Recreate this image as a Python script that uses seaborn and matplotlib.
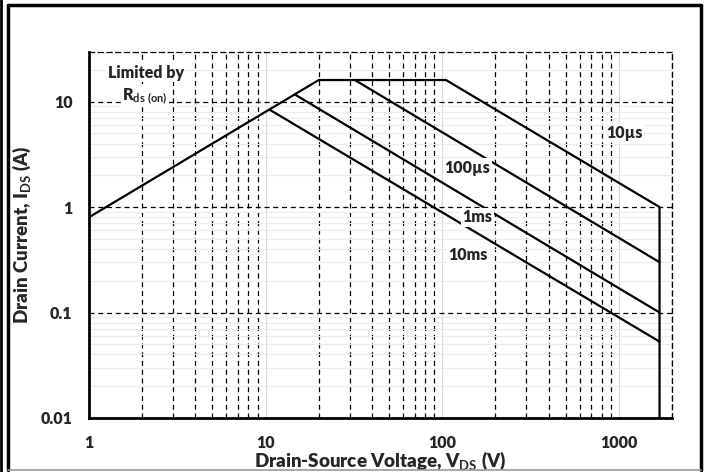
import numpy as np
import pandas as pd
import seaborn as sns
import matplotlib.pyplot as plt
from matplotlib.ticker import LogLocator, FixedLocator, NullFormatter, FixedFormatter
from matplotlib.lines import Line2D

sns.set_style("white")
plt.rcParams['font.family'] = ['Lato', 'DejaVu Sans']
plt.rcParams['font.weight'] = 'bold'
plt.rcParams['mathtext.fontset'] = 'custom'
plt.rcParams['mathtext.rm'] = 'Lato:bold'
plt.rcParams['mathtext.it'] = 'Lato:bold'
plt.rcParams['mathtext.bf'] = 'Lato:bold'

# SOA curves (V, A)
v_10us = [1, 20, 105, 1700, 1700]
i_10us = [0.8, 16, 16, 1.0, 0.01]
v_100us = [32, 1700]
i_100us = [16, 0.3]
v_1ms = [14.6, 1700]
i_1ms = [11.7, 0.1]
v_10ms = [10.5, 1700]
i_10ms = [8.4, 0.053]

curves = {"10us": (v_10us, i_10us), "100us": (v_100us, i_100us),
          "1ms": (v_1ms, i_1ms), "10ms": (v_10ms, i_10ms)}

x_ticks = [1, 10, 100, 1000]
x_labels = ["1", "10", "100", "1000"]
y_ticks = [0.01, 0.1, 1, 10]
y_labels = ["0.01", "0.1", "1", "10"]

fig = plt.figure(figsize=(7.08, 4.72), dpi=100)
ax = fig.add_axes([89/708, 1-418/472, (672-89)/708, (418-52)/472])

for name, (v, i) in curves.items():
    df = pd.DataFrame({"v": v, "i": i})
    sns.lineplot(data=df, x="v", y="i", sort=False, estimator=None,
                 color="black", lw=1.6, ax=ax, zorder=5)

ax.set_xscale("log")
ax.set_yscale("log")
ax.set_xlim(1, 2000)
ax.set_ylim(0.01, 29.5)

ax.xaxis.set_major_locator(FixedLocator(x_ticks))
ax.xaxis.set_major_formatter(FixedFormatter(x_labels))
ax.xaxis.set_minor_locator(LogLocator(base=10, subs=np.arange(2, 10), numticks=20))
ax.xaxis.set_minor_formatter(NullFormatter())
ax.yaxis.set_major_locator(FixedLocator(y_ticks))
ax.yaxis.set_major_formatter(FixedFormatter(y_labels))
ax.yaxis.set_minor_locator(LogLocator(base=10, subs=np.arange(2, 10), numticks=20))
ax.yaxis.set_minor_formatter(NullFormatter())

ax.grid(True, which="major", axis="x", color="#d9d9d9", lw=0.8, ls="-")
ax.grid(True, which="minor", axis="x", color="black", lw=0.9, ls=(0, (4, 3)))
ax.grid(True, which="major", axis="y", color="black", lw=0.9, ls=(0, (4, 3)))
ax.grid(True, which="minor", axis="y", color="#ececec", lw=0.8, ls="-")

ax.tick_params(axis="both", which="both", length=0, labelsize=11.5)
ax.tick_params(axis="x", pad=12)
ax.tick_params(axis="y", pad=12)
for lab in ax.get_xticklabels() + ax.get_yticklabels():
    lab.set_fontweight("heavy")

for s in ["left", "bottom"]:
    ax.spines[s].set_color("black")
    ax.spines[s].set_linewidth(2.0)
for s in ["top", "right"]:
    ax.spines[s].set_color("black")
    ax.spines[s].set_linewidth(0.9)
    ax.spines[s].set_linestyle((0, (4, 3)))

ax.set_xlabel(r"Drain-Source Voltage, V$_{DS}$ (V)", fontsize=13.5, fontweight="heavy")
ax.set_ylabel(r"Drain Current, I$_{DS}$ (A)", fontsize=13.5, fontweight="heavy")
ax.xaxis.set_label_coords(0.5, -(467-418)/366, transform=ax.transAxes)
ax.yaxis.set_label_coords(-(89-22)/583, 0.5, transform=ax.transAxes)
ax.xaxis.label.set_va("baseline")
ax.yaxis.label.set_va("center")

box = dict(facecolor="white", edgecolor="none", pad=1.0)
kw = dict(ha="center", va="center", fontsize=11.5, fontweight="heavy", bbox=box, zorder=6)
ax.text(2.1, 18.8, "Limited by", **kw)
ax.text(2.08, 11.4, r"R$_{ds\ (on)}$", **kw)
ax.text(1070, 5.0, "10µs", **kw)
ax.text(139, 2.37, "100µs", **kw)
ax.text(158, 0.8, "1ms", **kw)
ax.text(140, 0.35, "10ms", **kw)

# outer frame
W, H = 708, 472
fig.lines.append(Line2D([8/W, 8/W], [2/H, 1-5/H], transform=fig.transFigure, color="black", lw=2.5))
fig.lines.append(Line2D([8/W, 701/W], [1-5/H, 1-5/H], transform=fig.transFigure, color="black", lw=2.5))
fig.lines.append(Line2D([701/W, 701/W], [2/H, 1-5/H], transform=fig.transFigure, color="black", lw=2.5))
fig.lines.append(Line2D([8/W, 701/W], [2/H, 2/H], transform=fig.transFigure, color="#999999", lw=1.2))
fig.lines.append(Line2D([1/W, 1/W], [0, 1], transform=fig.transFigure, color="black", lw=2.0))

fig.savefig("out.png", dpi=100)
